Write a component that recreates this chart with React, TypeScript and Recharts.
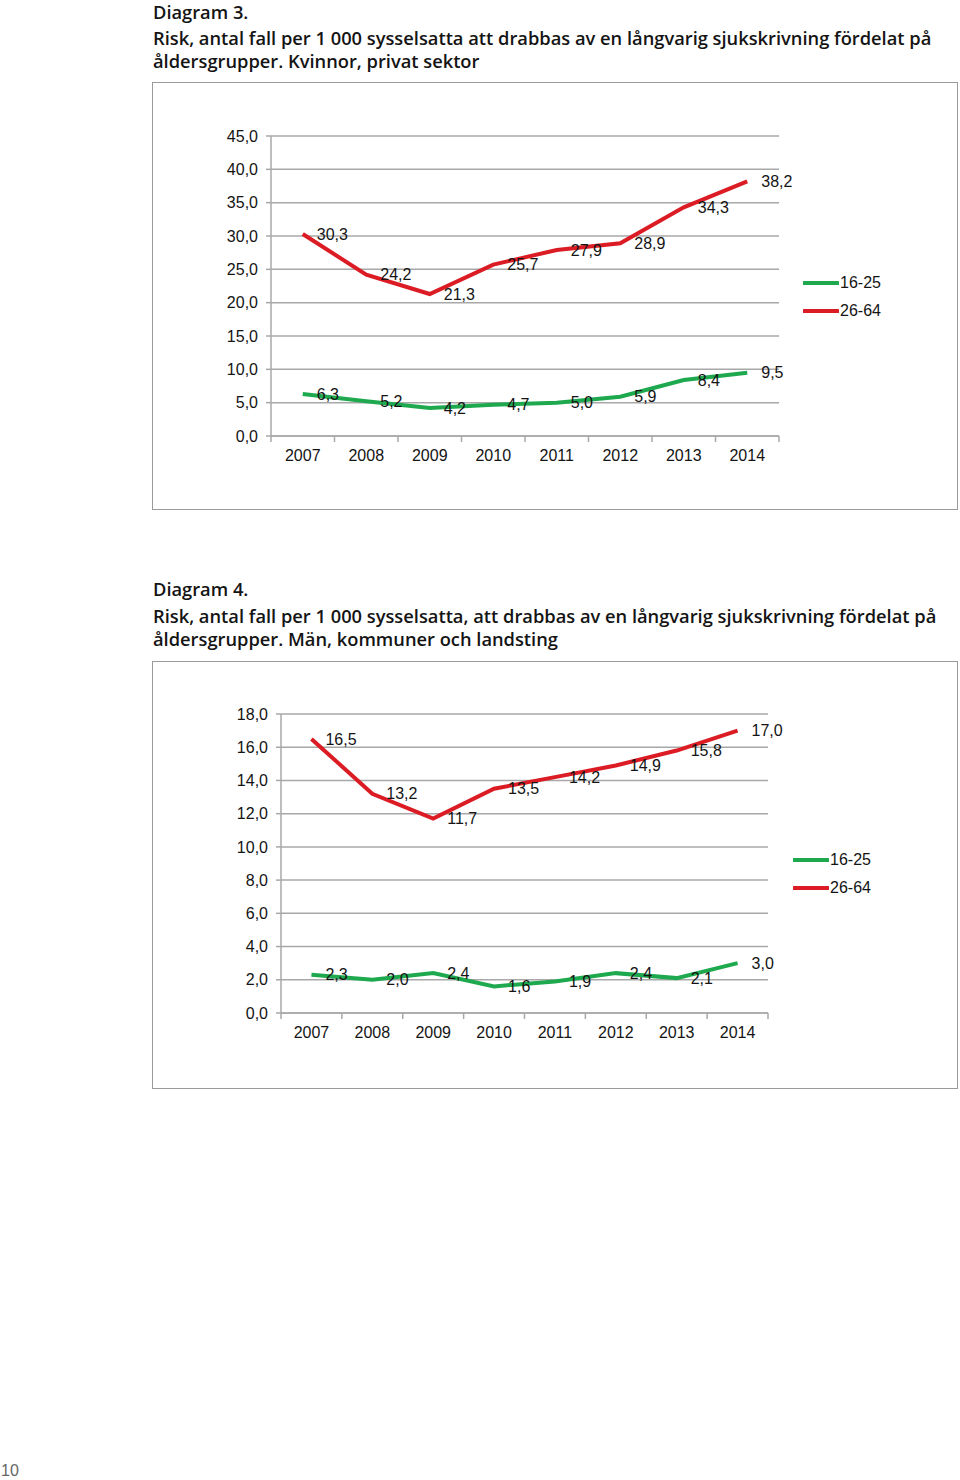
import React from 'react';
import { LineChart, Line, XAxis, YAxis, CartesianGrid, Legend, LabelList } from 'recharts';

const years = ['2007', '2008', '2009', '2010', '2011', '2012', '2013', '2014'];

// Diagram 3 – Kvinnor, privat sektor
const d3Young = [6.3, 5.2, 4.2, 4.7, 5.0, 5.9, 8.4, 9.5];
const d3Old = [30.3, 24.2, 21.3, 25.7, 27.9, 28.9, 34.3, 38.2];
const d3Ticks = [0, 5, 10, 15, 20, 25, 30, 35, 40, 45];

// Diagram 4 – Män, kommuner och landsting
const d4Young = [2.3, 2.0, 2.4, 1.6, 1.9, 2.4, 2.1, 3.0];
const d4Old = [16.5, 13.2, 11.7, 13.5, 14.2, 14.9, 15.8, 17.0];
const d4Ticks = [0, 2, 4, 6, 8, 10, 12, 14, 16, 18];

const seriesNames = ['16-25', '26-64'];

const GREEN = '#1ea94f';
const RED = '#dc1c24';
const GRID = '#a8a8a8';
const TEXT = '#141414';
const FONT = '"Liberation Sans", Arial, sans-serif';

const fmt = (v: number) => v.toFixed(1).replace('.', ',');

const X_TICK_MARGIN = 14;

const XTick = (props: any) => {
  const { x, y, payload, index, visibleTicksCount, half } = props;
  const axisY = y - X_TICK_MARGIN;
  const last = index === visibleTicksCount - 1;
  return (
    <g>
      <line x1={x - half} x2={x - half} y1={axisY} y2={axisY + 6} stroke={GRID} strokeWidth={1.5} />
      {last && <line x1={x + half} x2={x + half} y1={axisY} y2={axisY + 6} stroke={GRID} strokeWidth={1.5} />}
      <text x={x} y={y} dy="0.71em" textAnchor="middle" fill={TEXT} fontSize={16} fontFamily={FONT}>
        {payload.value}
      </text>
    </g>
  );
};

const LegendContent = () => (
  <div style={{ fontFamily: FONT, fontSize: 16, color: TEXT }}>
    {seriesNames.map((n, i) => (
      <div key={n} style={{ display: 'flex', alignItems: 'center', height: 28 }}>
        <svg width={36} height={6} style={{ display: 'block' }}>
          <line x1={1} x2={35} y1={3} y2={3} stroke={i === 0 ? GREEN : RED} strokeWidth={4} strokeLinecap="round" />
        </svg>
        <span style={{ marginLeft: 1 }}>{n}</span>
      </div>
    ))}
  </div>
);

type ChartProps = {
  young: number[];
  old: number[];
  ticks: number[];
  yWidth: number;
  half: number;
  margin: { top: number; right: number; bottom: number; left: number };
  legendPos: { left: number; top: number };
};

const RiskChart = ({ young, old, ticks, yWidth, half, margin, legendPos }: ChartProps) => {
  const data = years.map((y, i) => ({ year: y, young: young[i], old: old[i] }));
  return (
    <LineChart width={806} height={428} data={data} margin={margin}>
      <CartesianGrid vertical={false} stroke={GRID} strokeWidth={1.5} />
      <XAxis
        dataKey="year"
        height={30}
        padding={{ left: half, right: half }}
        axisLine={{ stroke: GRID, strokeWidth: 1.5 }}
        tickLine={false}
        tickSize={0}
        tickMargin={X_TICK_MARGIN}
        tick={<XTick half={half} />}
        interval={0}
      />
      <YAxis
        width={yWidth}
        domain={[ticks[0], ticks[ticks.length - 1]]}
        ticks={ticks}
        interval={0}
        axisLine={{ stroke: GRID, strokeWidth: 1.5 }}
        tickLine={{ stroke: GRID, strokeWidth: 1.5 }}
        tickSize={5}
        tickMargin={8}
        tickFormatter={fmt}
        tick={{ fill: TEXT, fontSize: 16, fontFamily: FONT }}
      />
      <Legend
        layout="vertical"
        align="center"
        verticalAlign="middle"
        content={<LegendContent />}
        wrapperStyle={{ left: legendPos.left, top: legendPos.top, width: 100 }}
      />
      <Line
        type="linear"
        dataKey="young"
        name={seriesNames[0]}
        stroke={GREEN}
        strokeWidth={4}
        dot={false}
        isAnimationActive={false}
      >
        <LabelList dataKey="young" position="right" offset={14} formatter={fmt} fill={TEXT} fontSize={16} fontFamily={FONT} />
      </Line>
      <Line
        type="linear"
        dataKey="old"
        name={seriesNames[1]}
        stroke={RED}
        strokeWidth={4}
        dot={false}
        isAnimationActive={false}
      >
        <LabelList dataKey="old" position="right" offset={14} formatter={fmt} fill={TEXT} fontSize={16} fontFamily={FONT} />
      </Line>
    </LineChart>
  );
};

const titleStyle: React.CSSProperties = {
  position: 'absolute',
  left: 153,
  fontFamily: '"Open Sans", sans-serif',
  fontWeight: 600,
  fontSize: 18.3,
  lineHeight: '23px',
  color: TEXT,
  whiteSpace: 'nowrap',
};

const boxStyle: React.CSSProperties = {
  position: 'absolute',
  left: 152,
  width: 806,
  height: 428,
  border: '1px solid #9a9a9a',
  boxSizing: 'border-box',
  background: '#fff',
};

export default function App() {
  return (
    <div style={{ position: 'absolute', left: 0, top: 0, width: 960, height: 1480, background: '#fff', overflow: 'hidden' }}>
      <div style={{ ...titleStyle, top: 0 }}>
        <div>Diagram 3.</div>
        <div style={{ marginTop: 3 }}>Risk, antal fall per 1 000 sysselsatta att drabbas av en långvarig sjukskrivning fördelat på</div>
        <div>åldersgrupper. Kvinnor, privat sektor</div>
      </div>
      <div style={{ ...boxStyle, top: 82 }}>
        <div style={{ position: 'absolute', left: -1, top: -1 }}>
          <RiskChart
            young={d3Young}
            old={d3Old}
            ticks={d3Ticks}
            yWidth={119}
            half={31.75}
            margin={{ top: 54, right: 179, bottom: 44, left: 0 }}
            legendPos={{ left: 651, top: 187 }}
          />
        </div>
      </div>

      <div style={{ ...titleStyle, top: 577 }}>
        <div>Diagram 4.</div>
        <div style={{ marginTop: 4 }}>Risk, antal fall per 1 000 sysselsatta, att drabbas av en långvarig sjukskrivning fördelat på</div>
        <div>åldersgrupper. Män, kommuner och landsting</div>
      </div>
      <div style={{ ...boxStyle, top: 661 }}>
        <div style={{ position: 'absolute', left: -1, top: -1 }}>
          <RiskChart
            young={d4Young}
            old={d4Old}
            ticks={d4Ticks}
            yWidth={129}
            half={30.44}
            margin={{ top: 53, right: 190, bottom: 46, left: 0 }}
            legendPos={{ left: 641, top: 185 }}
          />
        </div>
      </div>

      <div style={{ position: 'absolute', left: 1, top: 1463, fontFamily: FONT, fontSize: 16, lineHeight: '16px', color: '#666' }}>10</div>
    </div>
  );
}
